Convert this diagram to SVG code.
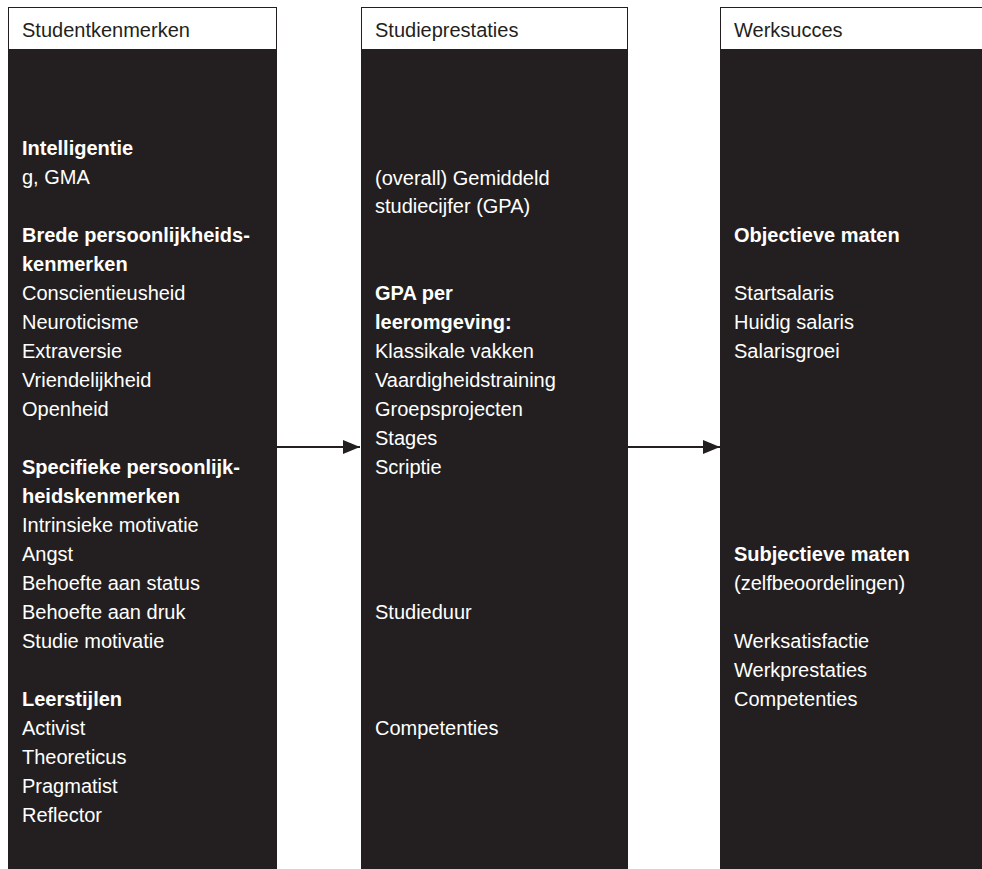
<svg xmlns="http://www.w3.org/2000/svg" width="982" height="869" viewBox="0 0 982 869">
<style>
.body{fill:#231f20;}
.head{fill:#ffffff;stroke:#231f20;stroke-width:1;}
.ht{font-family:"Liberation Sans",Arial,sans-serif;font-size:20px;fill:#231f20;}
.t{font-family:"Liberation Sans",Arial,sans-serif;font-size:20px;fill:#ffffff;}
.b{font-weight:bold;}
.conn{stroke:#231f20;stroke-width:2;fill:none;}
</style>
<defs>
<marker id="ah" markerUnits="userSpaceOnUse" markerWidth="17" markerHeight="14" refX="17" refY="7" orient="auto">
<path d="M0,0 L17,7 L0,14 z" fill="#231f20"/>
</marker>
</defs>
<rect width="982" height="869" fill="#ffffff"/>
<g id="studentkenmerken">
<rect class="body" x="8" y="7" width="269" height="870"/>
<rect class="head" x="8.5" y="7.5" width="268" height="42"/>
<text class="ht" x="22" y="37">Studentkenmerken</text>
<text class="t b" x="22" y="155">Intelligentie</text>
<text class="t" x="22" y="184">g, GMA</text>
<text class="t b" x="22" y="242">Brede persoonlijkheids-</text>
<text class="t b" x="22" y="271">kenmerken</text>
<text class="t" x="22" y="300">Conscientieusheid</text>
<text class="t" x="22" y="329">Neuroticisme</text>
<text class="t" x="22" y="358">Extraversie</text>
<text class="t" x="22" y="387">Vriendelijkheid</text>
<text class="t" x="22" y="416">Openheid</text>
<text class="t b" x="22" y="474">Specifieke persoonlijk-</text>
<text class="t b" x="22" y="503">heidskenmerken</text>
<text class="t" x="22" y="532">Intrinsieke motivatie</text>
<text class="t" x="22" y="561">Angst</text>
<text class="t" x="22" y="590">Behoefte aan status</text>
<text class="t" x="22" y="619">Behoefte aan druk</text>
<text class="t" x="22" y="648">Studie motivatie</text>
<text class="t b" x="22" y="706">Leerstijlen</text>
<text class="t" x="22" y="735">Activist</text>
<text class="t" x="22" y="764">Theoreticus</text>
<text class="t" x="22" y="793">Pragmatist</text>
<text class="t" x="22" y="822">Reflector</text>
</g>
<g id="studieprestaties">
<rect class="body" x="361" y="7" width="267" height="870"/>
<rect class="head" x="361.5" y="7.5" width="266" height="42"/>
<text class="ht" x="375" y="37">Studieprestaties</text>
<text class="t" x="375" y="185">(overall) Gemiddeld</text>
<text class="t" x="375" y="213">studiecijfer (GPA)</text>
<text class="t b" x="375" y="300">GPA per</text>
<text class="t b" x="375" y="329">leeromgeving:</text>
<text class="t" x="375" y="358">Klassikale vakken</text>
<text class="t" x="375" y="387">Vaardigheidstraining</text>
<text class="t" x="375" y="416">Groepsprojecten</text>
<text class="t" x="375" y="445">Stages</text>
<text class="t" x="375" y="474">Scriptie</text>
<text class="t" x="375" y="619">Studieduur</text>
<text class="t" x="375" y="735">Competenties</text>
</g>
<g id="werksucces">
<rect class="body" x="720" y="7" width="270" height="870"/>
<rect class="head" x="720.5" y="7.5" width="270" height="42"/>
<text class="ht" x="734" y="37">Werksucces</text>
<text class="t b" x="734" y="242">Objectieve maten</text>
<text class="t" x="734" y="300">Startsalaris</text>
<text class="t" x="734" y="329">Huidig salaris</text>
<text class="t" x="734" y="358">Salarisgroei</text>
<text class="t b" x="734" y="561">Subjectieve maten</text>
<text class="t" x="734" y="590">(zelfbeoordelingen)</text>
<text class="t" x="734" y="648">Werksatisfactie</text>
<text class="t" x="734" y="677">Werkprestaties</text>
<text class="t" x="734" y="706">Competenties</text>
</g>
<g id="connectors">
<line class="conn" x1="277" y1="447" x2="360" y2="447" marker-end="url(#ah)"/>
<line class="conn" x1="628" y1="447" x2="720" y2="447" marker-end="url(#ah)"/>
</g>
</svg>
